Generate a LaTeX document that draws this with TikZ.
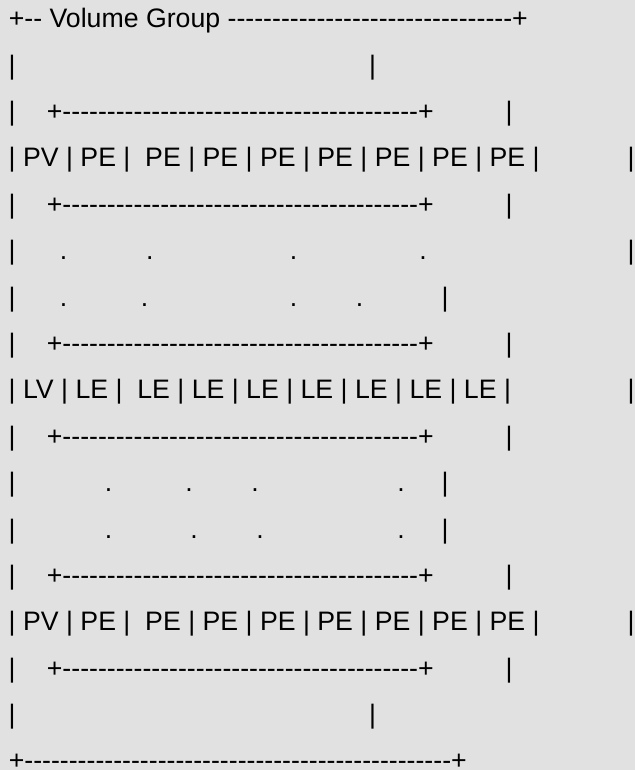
\documentclass[tikz,border=0pt]{standalone}
\usepackage{fontspec}
\setmainfont{Liberation Sans}[Ligatures=TeXOff]
\usetikzlibrary{positioning}
\definecolor{hgrund}{HTML}{E1E1E1}
\newcommand{\schrift}{\fontsize{26.7}{32}\selectfont}
\newcommand{\linie}[1]{\foreach \k in {1,...,#1}{-}}

\begin{document}
\begin{tikzpicture}[x=1pt, y=-1pt,
        txt/.style    = {inner sep=0pt, anchor=base west, font=\schrift},
        strich/.style = {inner sep=0pt, anchor=base, font=\schrift},
        punkt/.style  = {strich}]
    \useasboundingbox[fill=hgrund] (0,0) rectangle (635,770);

    % Rahmen oben und unten
    \node[txt] (kopf) at (8.6,27.7)  {+\linie{2} Volume Group \linie{32}+};
    \node[txt] (fuss) at (8.6,769.6) {+\linie{48}+};

    % Leerzeilen
    \foreach \i in {1,15} {
        \pgfmathsetmacro\b{27.7+46.4*\i}
        \node[strich] (leerl\i) at (12,\b)  {|};
        \node[strich] (leerr\i) at (372.5,\b) {|};
    }

    % Kanten der Bloecke
    \foreach \i in {2,4,7,9,12,14} {
        \pgfmathsetmacro\b{27.7+46.4*\i}
        \node[strich] (randl\i) at (12,\b)   {|};
        \node[txt]    (kante\i) at (46.7,\b) {+\linie{40}+};
        \node[strich] (randr\i) at (509,\b)  {|};
    }

    % Extents
    \node[txt]    (pvoben)   at (8.5,166.9) {| PV | PE |~ PE | PE | PE | PE | PE | PE | PE |};
    \node[strich] (pvobenr)  at (631,166.9) {|};
    \node[txt]    (lv)       at (8.5,398.9) {| LV | LE |~ LE | LE | LE | LE | LE | LE | LE |};
    \node[strich] (lvr)      at (631,398.9) {|};
    \node[txt]    (pvunten)  at (8.5,630.9) {| PV | PE |~ PE | PE | PE | PE | PE | PE | PE |};
    \node[strich] (pvuntenr) at (631,630.9) {|};

    % Punktzeilen
    \foreach \i/\r/\pa/\pb/\pc/\pd in {5/631/63.6/149.8/293.5/423,
                                        6/445/63.6/144.5/293.5/359.5,
                                        10/445/108.5/189/255/401,
                                        11/445/108.5/194/260/401} {
        \pgfmathsetmacro\b{27.7+46.4*\i}
        \node[strich] (pl\i) at (12,\b) {|};
        \foreach \x [count=\n] in {\pa,\pb,\pc,\pd}
            \node[punkt] (p\i-\n) at (\x,\b) {.};
        \node[strich] (pr\i) at (\r,\b) {|};
    }
\end{tikzpicture}
\end{document}
